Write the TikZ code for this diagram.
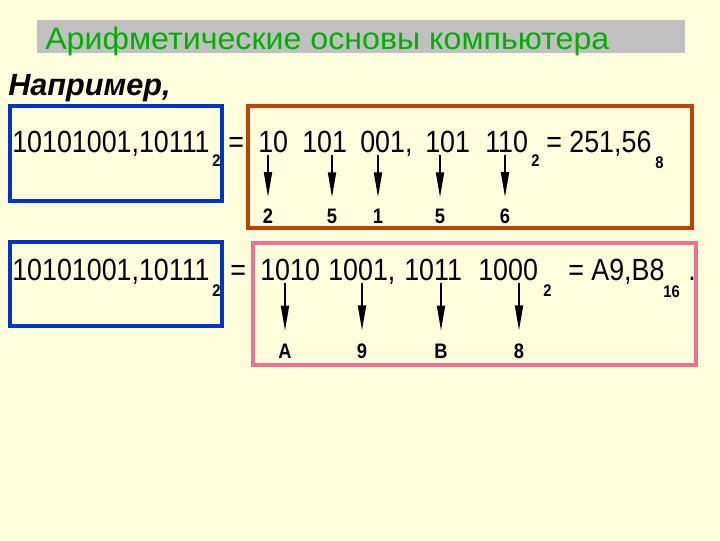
\documentclass[tikz,border=0pt]{standalone}
\usepackage{fontspec}
\setmainfont{Liberation Sans}
\newfontfamily\narrowsans[FakeStretch=0.875]{Liberation Sans}
\newfontfamily\widesans[FakeStretch=1.04]{Liberation Sans}
\usepackage{tikz}
\usetikzlibrary{arrows.meta}

\definecolor{slidebg}{RGB}{255,255,221}
\definecolor{titlegray}{RGB}{192,192,192}
\definecolor{titlegreen}{RGB}{0,176,0}
\definecolor{boxblue}{RGB}{0,51,204}
\definecolor{boxrust}{RGB}{192,64,0}
\definecolor{boxpink}{RGB}{240,112,144}

\tikzset{
  framebox/.style={line width=3pt},
  num/.style={anchor=base west, inner sep=0pt, font=\narrowsans\fontsize{21.8}{24}\selectfont},
  subnum/.style={anchor=base west, inner sep=0pt, font=\narrowsans\fontsize{12}{14}\selectfont\bfseries},
  digitlab/.style={anchor=base, inner sep=0pt, font=\narrowsans\fontsize{14.9}{16}\selectfont\bfseries},
  grouparrow/.style={line width=1.3pt, -{Triangle[length=17.8pt, width=5.7pt]}, shorten <=2pt}
}

\begin{document}
\begin{tikzpicture}[x=0.025cm, y=-0.025cm]
    \fill[slidebg] (0,0) rectangle (720,540);
    \useasboundingbox (0,0) rectangle (720,540);
    \fill[titlegray] (37,20) rectangle (685,53);
    \node[anchor=base west, inner sep=0pt, text=titlegreen, font=\widesans\fontsize{22}{24}\selectfont] (title) at (45,49) {Арифметические основы компьютера};
    \node[anchor=base west, inner sep=0pt, font=\fontsize{21.8}{24}\selectfont\bfseries\itshape] (example) at (8,95) {Например,};

    \draw[framebox, boxblue] (10,106) rectangle (222,201);
    \draw[framebox, boxrust] (248,106) rectangle (692,228);
    \draw[framebox, boxblue] (10,242) rectangle (222,326);
    \draw[framebox, boxpink] (253,243) rectangle (696,365);

    \node[num] (binoct) at (12,152) {10101001,10111};
    \node[subnum] (binoctbase) at (212,166) {2};
    \node[num] (eqoct) at (228,152) {=};
    \node[num] (tri1) at (258,152) {10};
    \node[num] (tri2) at (302,152) {101};
    \node[num] (tri3) at (360,152) {001,};
    \node[num] (tri4) at (425,152) {101};
    \node[num] (tri5) at (485,152) {110};
    \node[subnum] (tribase) at (531,166) {2};
    \node[num] (octres) at (546,152) {= 251,56};
    \node[subnum] (octbase) at (655,168) {8};

    \node[digitlab] (oct1) at (268,223) {2};
    \node[digitlab] (oct2) at (332,223) {5};
    \node[digitlab] (oct3) at (378,223) {1};
    \node[digitlab] (oct4) at (440,223) {5};
    \node[digitlab] (oct5) at (505,223) {6};
    \draw[grouparrow, shorten >=7.8pt] (oct1 |- tri1.base) -- (oct1.north);
    \draw[grouparrow, shorten >=7.8pt] (oct2 |- tri2.base) -- (oct2.north);
    \draw[grouparrow, shorten >=7.8pt] (oct3 |- tri1.base) -- (oct3.north);
    \draw[grouparrow, shorten >=7.8pt] (oct4 |- tri4.base) -- (oct4.north);
    \draw[grouparrow, shorten >=7.8pt] (oct5 |- tri5.base) -- (oct5.north);

    \node[num] (binhex) at (12,280) {10101001,10111};
    \node[subnum] (binhexbase) at (212,296) {2};
    \node[num] (eqhex) at (230,280) {=};
    \node[num] (tet1) at (260,280) {1010};
    \node[num] (tet2) at (328,280) {1001,};
    \node[num] (tet3) at (404,280) {1011};
    \node[num] (tet4) at (478,280) {1000};
    \node[subnum] (tetbase) at (543,296) {2};
    \node[num] (hexres) at (568,280) {= A9,B8};
    \node[subnum] (hexbase) at (663,297) {16};
    \node[num] (hexdot) at (688,280) {.};

    \node[digitlab] (hex1) at (285,358) {A};
    \node[digitlab] (hex2) at (362,358) {9};
    \node[digitlab] (hex3) at (441,358) {B};
    \node[digitlab] (hex4) at (519,358) {8};
    \draw[grouparrow, shorten >=9pt] (hex1 |- tet1.base) -- (hex1.north);
    \draw[grouparrow, shorten >=9pt] (hex2 |- tet1.base) -- (hex2.north);
    \draw[grouparrow, shorten >=9pt] (hex3 |- tet3.base) -- (hex3.north);
    \draw[grouparrow, shorten >=9pt] (hex4 |- tet4.base) -- (hex4.north);
  \end{tikzpicture}
\end{document}
